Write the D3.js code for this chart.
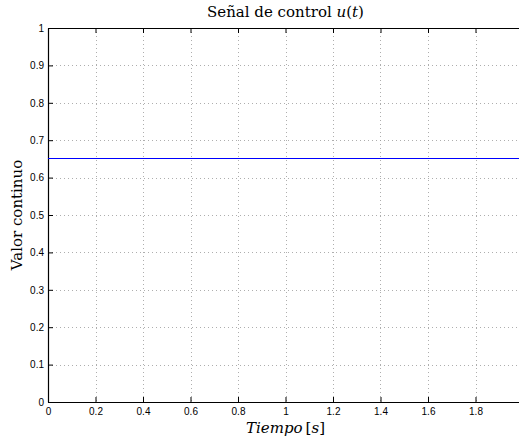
<!DOCTYPE html>
<html><head><meta charset="utf-8">
<script src="https://cdn.jsdelivr.net/npm/d3@7"></script>
<style>body{margin:0;background:#fff}svg{display:block}</style>
</head><body>
<svg id="c" width="519" height="442"></svg>
<script>
const timeValues = [0, 0.25, 0.5, 0.75, 1, 1.25, 1.5, 1.75, 2];
const controlValues = [0.65, 0.65, 0.65, 0.65, 0.65, 0.65, 0.65, 0.65, 0.65];
const xTicks = [0, 0.2, 0.4, 0.6, 0.8, 1, 1.2, 1.4, 1.6, 1.8];
const yTicks = [0, 0.1, 0.2, 0.3, 0.4, 0.5, 0.6, 0.7, 0.8, 0.9, 1];

const svg = d3.select("#c");
const L = 48, R = 523, T = 28, B = 402;
const x = d3.scaleLinear().domain([0, 2]).range([L, R]);
const y = d3.scaleLinear().domain([0, 1]).range([B, T]);
const tickFont = "Liberation Sans, Arial, sans-serif";
const serif = "DejaVu Serif, Liberation Serif, serif";

// grid
const g = svg.append("g");
g.selectAll(".gx").data(xTicks.slice(1)).join("line")
  .attr("x1", d => Math.round(x(d)) + 0.5).attr("x2", d => Math.round(x(d)) + 0.5)
  .attr("y1", T).attr("y2", B)
  .attr("stroke", "#999").attr("stroke-width", 0.8).attr("stroke-dasharray", "1,3");
g.selectAll(".gy").data(yTicks.slice(1, -1)).join("line")
  .attr("y1", d => Math.round(y(d)) + 0.5).attr("y2", d => Math.round(y(d)) + 0.5)
  .attr("x1", L).attr("x2", R)
  .attr("stroke", "#999").attr("stroke-width", 0.8).attr("stroke-dasharray", "1,3");

// axes (ticks inward)
const ax = svg.append("g").attr("transform", `translate(0,${B})`)
  .call(d3.axisBottom(x).tickValues(xTicks).tickSizeInner(-5).tickSizeOuter(0).tickPadding(6)
    .tickFormat(d => d3.format("~g")(d)));
const axTop = svg.append("g").attr("transform", `translate(0,${T})`)
  .call(d3.axisTop(x).tickValues(xTicks).tickSizeInner(-5).tickSizeOuter(0).tickFormat(""));
const ay = svg.append("g").attr("transform", `translate(${L},0)`)
  .call(d3.axisLeft(y).tickValues(yTicks).tickSizeInner(-5).tickSizeOuter(0).tickPadding(4)
    .tickFormat(d => d3.format("~g")(d)));
[ax, axTop, ay].forEach(a => {
  a.selectAll("path").attr("stroke", "#000").attr("stroke-width", 1.2);
  a.selectAll("line").attr("stroke", "#000");
  a.selectAll("text").attr("font-family", tickFont).attr("font-size", 10).attr("fill", "#000");
});

// data line
svg.append("path")
  .datum(timeValues.map((t, i) => [t, controlValues[i]]))
  .attr("fill", "none").attr("stroke", "#0000ff").attr("stroke-width", 1)
  .attr("shape-rendering", "crispEdges")
  .attr("d", d3.line().x(d => x(d[0])).y(d => y(d[1])));

// title
const title = svg.append("text").attr("x", (L + R) / 2).attr("y", 17)
  .attr("text-anchor", "middle").attr("font-family", serif).attr("font-size", 15);
title.append("tspan").text("Señal de control ");
title.append("tspan").attr("font-style", "italic").text("u");
title.append("tspan").text("(");
title.append("tspan").attr("font-style", "italic").text("t");
title.append("tspan").text(")");

// x label
const xl = svg.append("text").attr("x", (L + R) / 2).attr("y", 433)
  .attr("text-anchor", "middle").attr("font-family", serif).attr("font-size", 15);
xl.append("tspan").attr("font-style", "italic").text("Tiempo");
xl.append("tspan").attr("dx", 3).text("[");
xl.append("tspan").attr("font-style", "italic").text("s");
xl.append("tspan").text("]");

// y label
svg.append("text").attr("transform", `translate(22,${(T + B) / 2}) rotate(-90)`)
  .attr("text-anchor", "middle").attr("font-family", serif).attr("font-size", 15)
  .text("Valor continuo");
</script>
</body></html>
